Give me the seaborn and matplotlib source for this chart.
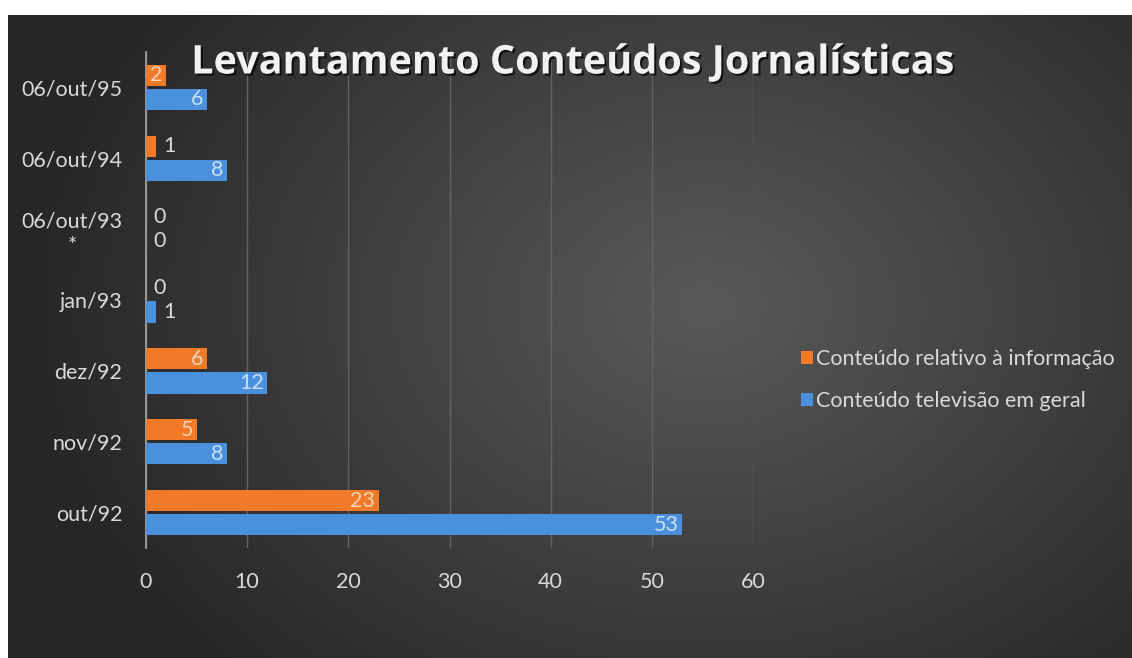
import numpy as np
import pandas as pd
import seaborn as sns
import matplotlib.pyplot as plt
import matplotlib.patheffects as pe

periodos = ['06/out/95', '06/out/94', '06/out/93\n*', 'jan/93', 'dez/92', 'nov/92', 'out/92']
informacao = [2, 1, 0, 0, 6, 5, 23]
televisao = [6, 8, 0, 1, 12, 8, 53]
series = ['Conteúdo relativo à informação', 'Conteúdo televisão em geral']
cores = ['#F07A28', '#4A90DC']

df = pd.DataFrame({
    'periodo': periodos * 2,
    'valor': informacao + televisao,
    'serie': [series[0]] * len(periodos) + [series[1]] * len(periodos),
})

sns.set_theme(style='dark')
plt.rcParams['font.family'] = ['Lato', 'DejaVu Sans']
txt = '#D9D9D9'

fig = plt.figure(figsize=(11.32, 6.58), dpi=100, facecolor='white')

# fundo escuro com gradiente radial
bg = fig.add_axes([8/1132, 0, 1124/1132, 643/658])
ny, nx = 300, 520
yy, xx = np.mgrid[0:ny, 0:nx]
d = np.sqrt(((xx - 0.62*nx)/nx)**2 + ((yy - 0.45*ny)/ny*0.75)**2)
g = np.clip(0.35 - 0.33*d, 0.15, 0.35)
bg.imshow(np.dstack([g, g, g]), aspect='auto', extent=[0, 1, 0, 1], interpolation='bicubic')
bg.set_axis_off()

ax = fig.add_axes([146/1132, 1-548/658, (753-146)/1132, (548-52)/658])
ax.set_facecolor('none')
sns.barplot(data=df, y='periodo', x='valor', hue='serie', orient='h',
            palette=cores, saturation=1, width=0.68, ax=ax, legend=True,
            linewidth=0, zorder=3)

# pequeno espaço entre as barras do mesmo grupo
for cont in ax.containers:
    for bar in cont:
        yc = bar.get_y() + bar.get_height()/2
        bar.set_height(0.30)
        bar.set_y(yc - 0.15)

ax.set_xlim(0, 60)
ax.set_xticks(range(0, 61, 10))
ax.grid(axis='x', color='#626262', linewidth=1, zorder=0)
ax.grid(axis='y', visible=False)
for s in ['top', 'right', 'bottom']:
    ax.spines[s].set_visible(False)
ax.spines['left'].set_color('#A6A6A6')
ax.spines['left'].set_linewidth(1.2)
ax.set_xlabel('')
ax.set_ylabel('')
ax.tick_params(axis='x', colors=txt, labelsize=15.5, length=0, pad=17)
ax.tick_params(axis='y', colors=txt, labelsize=15.5, length=0, pad=17)
for lab in ax.get_yticklabels():
    lab.set_multialignment('center')
    lab.set_linespacing(1.3)

for cont, cor in zip(ax.containers, ['#FAD3B5', '#C9E0F7']):
    for bar in cont:
        v = bar.get_width()
        yc = bar.get_y() + bar.get_height()/2
        if v >= 2:
            ax.text(v - 0.35, yc, f'{int(v)}', ha='right', va='center',
                    color=cor, fontsize=15.5, zorder=5)
        else:
            ax.text(v + 0.7, yc, f'{int(v)}', ha='left', va='center',
                    color=txt, fontsize=15.5, zorder=5)

h, l = ax.get_legend_handles_labels()
ax.legend_.remove()
fig.legend(h, l, loc='center left', bbox_to_anchor=(782/1132, 1-380/658),
           frameon=False, fontsize=15.5, labelcolor=txt, handlelength=0.55,
           handleheight=0.55, handletextpad=0.15, labelspacing=1.0)

fig.text(573/1132, 1-63/658, 'Levantamento Conteúdos Jornalísticas',
         ha='center', va='center', fontsize=28.5, fontweight='bold',
         family='Open Sans', color='#F2F2F2',
         path_effects=[pe.SimplePatchShadow(offset=(1.5, -1.5), shadow_rgbFace='black', alpha=0.7),
                       pe.Normal()])

fig.savefig('out.png', dpi=100, facecolor='white')
